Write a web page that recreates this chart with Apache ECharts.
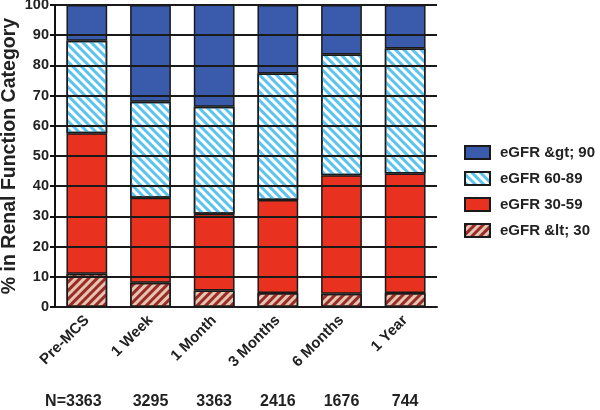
<!DOCTYPE html>
<html>
<head>
<meta charset="utf-8">
<script src="https://cdn.jsdelivr.net/npm/echarts@6/dist/echarts.min.js"></script>
<style>html,body{margin:0;padding:0;background:#fff}#c{width:600px;height:410px}</style>
</head>
<body>
<div id="c"></div>
<script>
var categories = ['Pre-MCS', '1 Week', '1 Month', '3 Months', '6 Months', '1 Year'];
var nLabels = ['N=3363', '3295', '3363', '2416', '1676', '744'];
var yTicks = [0, 10, 20, 30, 40, 50, 60, 70, 80, 90, 100];
var seriesNames = ['eGFR &lt; 30', 'eGFR 30-59', 'eGFR 60-89', 'eGFR &gt; 90'];
var egfrLt30 = [11.0, 8.0, 5.5, 4.6, 4.4, 4.6];
var egfr30to59 = [46.5, 28.2, 25.4, 30.8, 39.2, 39.6];
var egfr60to89 = [30.7, 31.8, 35.4, 41.9, 40.0, 41.4];
var egfrGt90 = [11.8, 32.0, 34.0, 22.7, 16.4, 14.4];

var FONT = '"Liberation Sans", Arial, sans-serif';
var border = {borderColor: '#1a1a1a', borderWidth: 1.5};

function bar(name, data, style) {
  return {
    name: name, type: 'bar', stack: 'total', data: data,
    barWidth: '64%', clip: false,
    itemStyle: Object.assign({}, border, style)
  };
}

var chart = echarts.init(document.getElementById('c'), null, {renderer: 'canvas'});
chart.setOption({
  backgroundColor: '#fff',
  animation: false,
  grid: {left: 55, right: 163, top: 5, bottom: 103, containLabel: false, outerBoundsMode: 'none'},
  legend: {
    orient: 'vertical', left: 464, top: 145, icon: 'rect', padding: 0,
    itemWidth: 25, itemHeight: 13, itemGap: 11,
    data: [seriesNames[3], seriesNames[2], seriesNames[1], seriesNames[0]],
    textStyle: {fontFamily: FONT, fontWeight: 'bold', fontSize: 15, color: '#222', padding: [0, 0, 0, 5]}
  },
  xAxis: [{
    type: 'category', data: categories, gridIndex: 0,
    axisLine: {lineStyle: {color: '#111', width: 2}},
    axisTick: {alignWithLabel: true, length: 6, lineStyle: {color: '#111', width: 2}},
    axisLabel: {rotate: 45, margin: 11, fontFamily: FONT, fontWeight: 'bold', fontSize: 15, color: '#222', interval: 0}
  }, {
    type: 'category', data: nLabels, gridIndex: 0, position: 'bottom',
    axisLine: {show: false}, axisTick: {show: false},
    axisLabel: {
      margin: 87, interval: 0, fontFamily: FONT, fontWeight: 'bold', fontSize: 16, color: '#222',
      formatter: function (v, i) { return i === 0 ? '{p|' + v + '}' : v; },
      rich: {p: {padding: [0, 27, 0, 0], fontFamily: FONT, fontWeight: 'bold', fontSize: 16, color: '#222'}}
    }
  }],
  yAxis: {
    type: 'value', min: yTicks[0], max: yTicks[yTicks.length - 1], interval: 10, z: 5,
    name: '% in Renal Function Category', nameLocation: 'middle', nameGap: 35, nameMoveOverlap: false,
    nameTextStyle: {fontFamily: FONT, fontWeight: 'bold', fontSize: 19.5, color: '#222'},
    axisLine: {show: true, lineStyle: {color: '#111', width: 2}},
    axisTick: {show: true, length: 5, lineStyle: {color: '#111', width: 2}},
    axisLabel: {margin: 6, fontFamily: FONT, fontWeight: 'bold', fontSize: 14.5, color: '#222'},
    splitLine: {show: true, lineStyle: {color: '#1a1a1a', width: 1.8}}
  },
  series: [
    bar(seriesNames[0], egfrLt30, {color: '#e6c3b3', decal: {symbol: 'rect', symbolSize: 1, dashArrayX: [1, 0], dashArrayY: [2.5, 2.5], rotation: -Math.PI / 4, color: '#972d25'}}),
    bar(seriesNames[1], egfr30to59, {color: '#e8321f'}),
    bar(seriesNames[2], egfr60to89, {color: '#ffffff', decal: {symbol: 'rect', symbolSize: 1, dashArrayX: [1, 0], dashArrayY: [2.5, 2.5], rotation: Math.PI / 4, color: '#5cc3ef'}}),
    bar(seriesNames[3], egfrGt90, {color: '#3a5aab'})
  ]
});
</script>
</body>
</html>
